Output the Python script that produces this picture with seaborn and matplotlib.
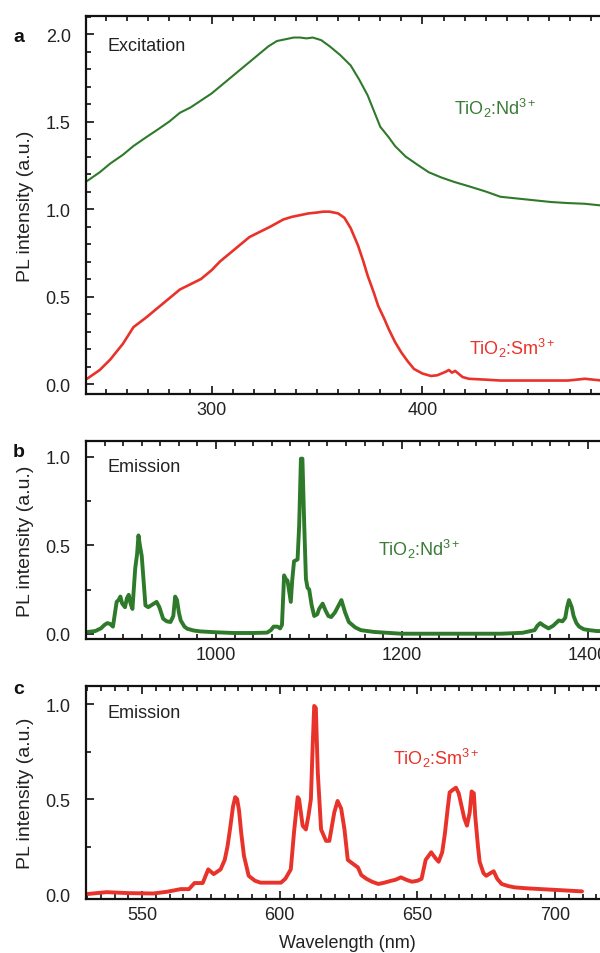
import matplotlib
matplotlib.use("Agg")
import matplotlib.pyplot as plt
import seaborn as sns
import pandas as pd
from matplotlib.ticker import MultipleLocator, FormatStrFormatter

# ---------------- data ----------------
# Panel a: excitation spectra
exc_nd_wl = [241, 247, 252, 258, 263, 269, 274, 280, 285, 290, 295, 300, 304,
             309, 314, 318, 323, 327, 331, 335, 339, 342, 345, 348, 352, 356,
             361, 366, 370, 374, 377, 380, 384, 387, 392, 398, 403, 409, 415,
             422, 430, 437, 445, 453, 461, 469, 477, 485]
exc_nd_pl = [1.16, 1.21, 1.26, 1.31, 1.36, 1.41, 1.45, 1.50, 1.55, 1.58, 1.62,
             1.66, 1.70, 1.75, 1.80, 1.84, 1.89, 1.93, 1.96, 1.97, 1.98, 1.98,
             1.975, 1.98, 1.965, 1.93, 1.88, 1.82, 1.74, 1.65, 1.56, 1.47, 1.41,
             1.36, 1.30, 1.25, 1.21, 1.18, 1.155, 1.13, 1.10, 1.07, 1.06, 1.05,
             1.04, 1.034, 1.03, 1.02]
exc_sm_wl = [241, 247, 252, 258, 263, 269, 274, 280, 285, 290, 295, 300, 304,
             309, 314, 318, 323, 328, 334, 338, 342, 346, 350, 353, 356, 360,
             363, 366, 369.5, 372, 374, 377, 379, 382, 384, 387, 390, 393, 396,
             400, 404, 407, 409, 411, 412.5, 414, 415.5, 417, 419, 422, 430, 437,
             445, 455, 462, 469, 473, 477, 481, 485]
exc_sm_pl = [0.03, 0.08, 0.14, 0.23, 0.325, 0.38, 0.43, 0.49, 0.54, 0.57, 0.60,
             0.65, 0.70, 0.75, 0.80, 0.84, 0.87, 0.90, 0.94, 0.955, 0.965, 0.975,
             0.98, 0.985, 0.985, 0.975, 0.95, 0.89, 0.79, 0.70, 0.62, 0.52, 0.447,
             0.37, 0.314, 0.24, 0.18, 0.13, 0.086, 0.06, 0.046, 0.05, 0.06, 0.07,
             0.08, 0.065, 0.075, 0.06, 0.04, 0.03, 0.025, 0.02, 0.02, 0.02, 0.02,
             0.02, 0.025, 0.03, 0.025, 0.02]

# Panel b: Nd3+ emission
em_nd_wl = [862, 870, 876, 880, 883, 886, 889, 893, 895, 897, 899, 902, 904,
            906, 908, 910, 913, 915, 916.5, 918, 920, 922, 924, 927, 930, 933,
            936, 939, 943, 947, 951, 954, 956, 958, 960, 962, 966, 969, 976, 983,
            1000, 1019, 1040, 1055, 1059, 1062, 1066, 1069, 1071, 1073.3, 1075,
            1077, 1080.5, 1082, 1084, 1087.8, 1089.5, 1091.4, 1093, 1095, 1096.8,
            1098.5, 1100.3, 1103, 1105.7, 1109, 1111, 1114.8, 1118, 1121, 1124,
            1128, 1132, 1135, 1139, 1143, 1150, 1156, 1170, 1199, 1250, 1307,
            1330, 1343, 1346, 1349, 1353, 1358, 1363, 1366, 1369, 1373, 1376,
            1378, 1380, 1383, 1385, 1388, 1391, 1396, 1402, 1410, 1416]
em_nd_pl = [0.01, 0.015, 0.03, 0.05, 0.06, 0.055, 0.04, 0.18, 0.19, 0.21, 0.17,
            0.15, 0.20, 0.22, 0.17, 0.14, 0.37, 0.45, 0.556, 0.50, 0.44, 0.30,
            0.16, 0.15, 0.16, 0.17, 0.18, 0.15, 0.085, 0.07, 0.066, 0.10, 0.21,
            0.19, 0.12, 0.075, 0.04, 0.028, 0.018, 0.013, 0.008, 0.004, 0.004,
            0.006, 0.02, 0.04, 0.04, 0.03, 0.05, 0.33, 0.31, 0.30, 0.18, 0.30,
            0.41, 0.42, 0.61, 0.99, 0.99, 0.61, 0.31, 0.26, 0.25, 0.16, 0.10,
            0.11, 0.14, 0.17, 0.13, 0.10, 0.094, 0.12, 0.16, 0.19, 0.12, 0.066,
            0.035, 0.02, 0.01, 0.0, 0.0, 0.0, 0.005, 0.02, 0.045, 0.06, 0.045,
            0.03, 0.045, 0.06, 0.075, 0.07, 0.09, 0.15, 0.19, 0.15, 0.10, 0.06,
            0.04, 0.025, 0.02, 0.015, 0.015]

# Panel c: Sm3+ emission
em_sm_wl = [530, 537, 545, 554, 559, 564, 567, 569, 572, 574, 576, 578.5, 580,
            581, 582, 583, 583.8, 584.5, 585.2, 586, 587, 588.7, 591, 593, 597,
            600.4, 602, 604, 605.2, 606.5, 607, 608.3, 609.5, 610.5, 611.3,
            611.9, 612.5, 613.1, 613.8, 615, 616.8, 618, 619.8, 621, 622.3,
            623.5, 624.7, 626.5, 628.4, 629.6, 631.5, 633.5, 635.8, 638, 640.5,
            642, 644, 646, 648, 650, 651.5, 653, 655, 656.5, 657.7, 659, 660,
            661, 661.7, 663, 664, 665, 666, 667, 668, 669, 669.7, 670.5, 671,
            672, 672.6, 674, 675, 676.5, 677.7, 679, 680.6, 683, 685.4, 690, 695,
            700, 705, 709.8]
em_sm_pl = [0.0, 0.01, 0.005, 0.003, 0.012, 0.026, 0.026, 0.058, 0.058, 0.13,
            0.105, 0.13, 0.18, 0.25, 0.35, 0.46, 0.51, 0.50, 0.44, 0.32, 0.20,
            0.096, 0.07, 0.06, 0.06, 0.06, 0.08, 0.13, 0.33, 0.51, 0.50, 0.36,
            0.34, 0.42, 0.50, 0.76, 0.99, 0.98, 0.64, 0.34, 0.28, 0.28, 0.43,
            0.49, 0.45, 0.34, 0.18, 0.16, 0.14, 0.10, 0.08, 0.065, 0.053, 0.06,
            0.07, 0.075, 0.088, 0.075, 0.065, 0.07, 0.08, 0.18, 0.22, 0.19,
            0.17, 0.22, 0.32, 0.45, 0.535, 0.55, 0.56, 0.53, 0.465, 0.40, 0.36,
            0.43, 0.54, 0.53, 0.41, 0.25, 0.17, 0.11, 0.096, 0.11, 0.12, 0.08,
            0.053, 0.042, 0.035, 0.03, 0.026, 0.022, 0.018, 0.014]

# ---------------- style ----------------
sns.set_style("ticks")
plt.rcParams["font.family"] = ["Liberation Sans", "DejaVu Sans"]
plt.rcParams["mathtext.fontset"] = "custom"
plt.rcParams["mathtext.rm"] = "Liberation Sans"
plt.rcParams["mathtext.it"] = "Liberation Sans:italic"
plt.rcParams["mathtext.default"] = "regular"
plt.rcParams["font.size"] = 13
plt.rcParams["xtick.direction"] = "in"
plt.rcParams["ytick.direction"] = "in"

GREEN = "#2e7a2a"
RED = "#e8322a"
TXT_GREEN = "#3a7b36"
FS = 13

W, H = 600, 954
fig = plt.figure(figsize=(W / 100, H / 100), dpi=100)


def make_ax(top_px, bottom_px):
    left = 86 / W
    right = 1.004
    return fig.add_axes([left, 1 - bottom_px / H, right - left,
                         (bottom_px - top_px) / H])


def style(ax, xmaj, xmin, ymaj, ymin):
    ax.xaxis.set_major_locator(MultipleLocator(xmaj))
    ax.xaxis.set_minor_locator(MultipleLocator(xmin))
    ax.yaxis.set_major_locator(MultipleLocator(ymaj))
    ax.yaxis.set_minor_locator(MultipleLocator(ymin))
    ax.yaxis.set_major_formatter(FormatStrFormatter("%.1f"))
    ax.tick_params(which="both", top=True, right=False, direction="in",
                   width=1.3, colors="#222222", labelcolor="#222222",
                   labelsize=FS)
    ax.tick_params(which="major", length=6)
    ax.tick_params(axis="y", which="major", pad=11)
    ax.tick_params(axis="x", which="major", pad=5)
    ax.tick_params(which="minor", length=3.5)
    for s in ax.spines.values():
        s.set_linewidth(1.6)
        s.set_color("#111111")
    ax.spines["right"].set_visible(False)
    ax.set_xlabel("")
    ax.set_ylabel("")


# Panel a
ax_a = make_ax(17, 395)
df_a1 = pd.DataFrame({"wl": exc_nd_wl, "pl": exc_nd_pl})
df_a2 = pd.DataFrame({"wl": exc_sm_wl, "pl": exc_sm_pl})
sns.lineplot(data=df_a1, x="wl", y="pl", ax=ax_a, color=GREEN, lw=1.5)
sns.lineplot(data=df_a2, x="wl", y="pl", ax=ax_a, color=RED, lw=1.9)
ax_a.set_xlim(240.5, 485.3)
ax_a.set_ylim(-0.057, 2.103)
style(ax_a, 100, 10, 0.5, 0.1)
ax_a.text(0.041, 0.922, "Excitation", transform=ax_a.transAxes,
          fontsize=FS, color="#222222", va="center", ha="left")
ax_a.text(414.8, 1.58, r"TiO$_2$:Nd$^{3+}$", color=TXT_GREEN, fontsize=FS,
          va="center", ha="left")
ax_a.text(421.9, 0.21, r"TiO$_2$:Sm$^{3+}$", color=RED, fontsize=FS,
          va="center", ha="left")

# Panel b
ax_b = make_ax(442, 640)
df_b = pd.DataFrame({"wl": em_nd_wl, "pl": em_nd_pl})
sns.lineplot(data=df_b, x="wl", y="pl", ax=ax_b, color=GREEN, lw=2.8)
ax_b.set_xlim(860, 1416)
ax_b.set_ylim(-0.03, 1.09)
style(ax_b, 200, 20, 0.5, 0.25)
ax_b.text(0.041, 0.87, "Emission", transform=ax_b.transAxes,
          fontsize=FS, color="#222222", va="center", ha="left")
ax_b.text(1174.6, 0.48, r"TiO$_2$:Nd$^{3+}$", color=TXT_GREEN, fontsize=FS,
          va="center", ha="left")

# Panel c
ax_c = make_ax(687, 900)
df_c = pd.DataFrame({"wl": em_sm_wl, "pl": em_sm_pl})
sns.lineplot(data=df_c, x="wl", y="pl", ax=ax_c, color=RED, lw=2.8)
ax_c.set_xlim(529.6, 717.2)
ax_c.set_ylim(-0.026, 1.095)
style(ax_c, 50, 5, 0.5, 0.25)
ax_c.text(0.041, 0.875, "Emission", transform=ax_c.transAxes,
          fontsize=FS, color="#222222", va="center", ha="left")
ax_c.text(641.2, 0.72, r"TiO$_2$:Sm$^{3+}$", color=RED, fontsize=FS,
          va="center", ha="left")

# Panel letters & labels
for letter, ypx in [("a", 38), ("b", 453), ("c", 690)]:
    fig.text(13 / W, 1 - ypx / H, letter, fontsize=14, fontweight="bold",
             va="center", ha="left", color="#111111")
for top, bot in [(17, 395), (442, 640), (687, 900)]:
    fig.text(26 / W, 1 - (top + bot) / 2 / H, "PL intensity (a.u.)",
             rotation=90, fontsize=14, va="center", ha="center",
             color="#222222")
fig.text(347 / W, 1 - 944 / H, "Wavelength (nm)", fontsize=FS,
         va="center", ha="center", color="#222222")

fig.savefig("out.png", dpi=100)
